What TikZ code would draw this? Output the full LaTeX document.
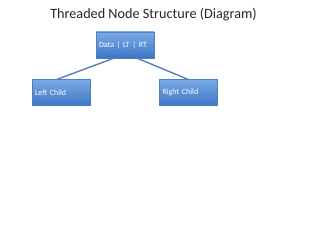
\documentclass[tikz,border=0pt]{standalone}
\usepackage{fontspec}
\setmainfont{Carlito}
\usetikzlibrary{shadows}
\definecolor{boxtop}{HTML}{7AAAE6}
\definecolor{boxbot}{HTML}{3E76C6}
\definecolor{edgec}{HTML}{4F7FC0}
\definecolor{linec}{HTML}{5681BD}
\tikzset{
  treebox/.style={rectangle, minimum width=58pt, minimum height=26pt, top color=boxtop, bottom color=boxbot, draw=edgec, line width=0.3pt, text=white, font=\fontsize{8}{9}\selectfont, align=left, text width=52pt, inner sep=3pt, drop shadow={shadow xshift=0.6pt, shadow yshift=-0.8pt, opacity=0.35}},
  link/.style={draw=linec, line width=1.4pt}
}
\begin{document}
\begin{tikzpicture}[x=1pt,y=-1pt]
\useasboundingbox (0,0) rectangle (320,240);
\node[font=\fontsize{14.2}{16}\selectfont, text=black!85] (title) at (153.5,15) {Threaded Node Structure (Diagram)};
\node[treebox] (root) at (125,45) {Data | LT | RT};
\node[treebox] (left) at (61,92.5) {Left Child};
\node[treebox] (right) at (188.5,92.5) {Right Child};
\draw[link] ([xshift=-11pt]root.south) -- ([xshift=-4pt]left.north);
\draw[link] ([xshift=12pt]root.south) -- ([xshift=-0.5pt]right.north);
\end{tikzpicture}
\end{document}
